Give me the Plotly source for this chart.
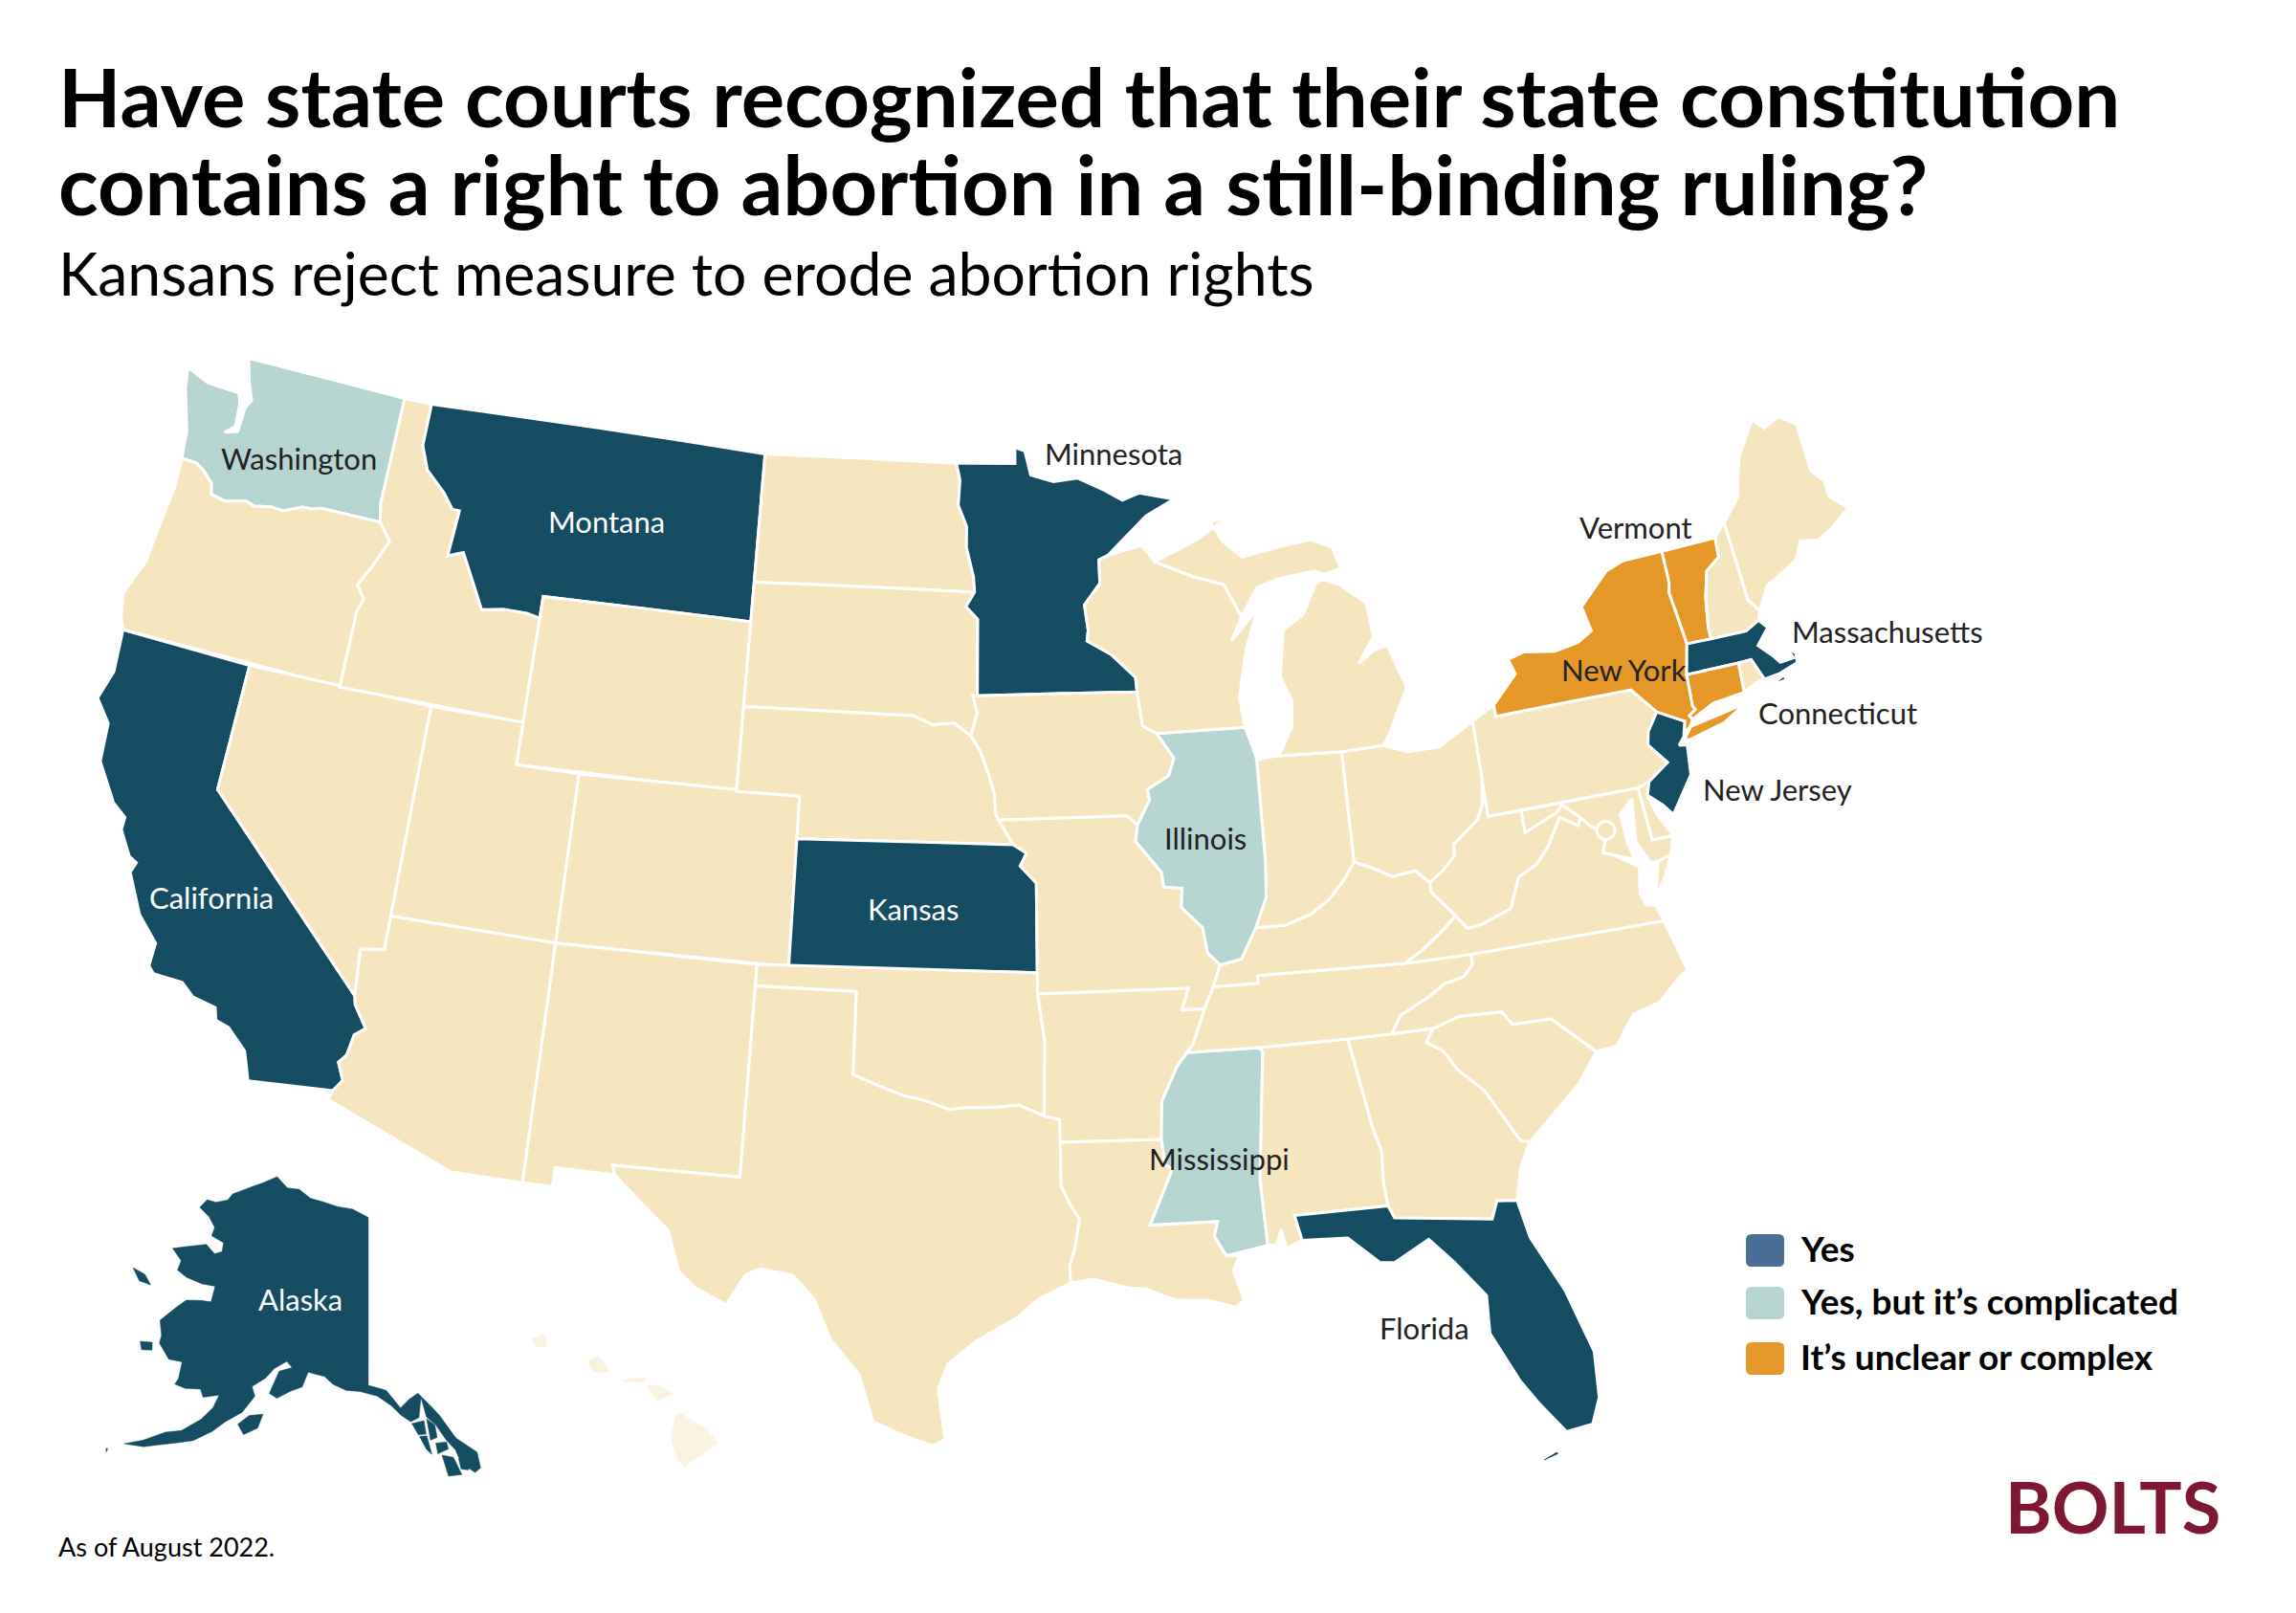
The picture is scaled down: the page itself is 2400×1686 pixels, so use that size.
import plotly.graph_objects as go

# state outlines as lon/lat, the cdn topojson can't be fetched here so they live in the file
WA = [(-124.73, 48.38), (-123.9, 48.16), (-123.1, 48.15), (-122.75, 48.14), (-122.62, 47.9), (-122.55, 47.35),
      (-122.85, 47.15), (-122.42, 47.25), (-122.4, 47.85), (-122.25, 48.05), (-122.5, 48.45), (-122.76, 49.0),
      (-117.03, 49.0), (-117.04, 46.42), (-116.92, 46.0), (-118.98, 46.0), (-119.3, 45.93), (-119.6, 45.92),
      (-120.2, 45.72), (-120.65, 45.74), (-121.2, 45.65), (-121.5, 45.72), (-122.2, 45.58), (-122.7, 45.65),
      (-122.8, 45.9), (-123.2, 46.15), (-123.5, 46.26), (-124.0, 46.27), (-124.08, 46.7), (-124.1, 46.9),
      (-124.3, 47.3), (-124.6, 47.9)]
OR = [(-124.0, 46.27), (-123.5, 46.26), (-123.2, 46.15), (-122.8, 45.9), (-122.7, 45.65), (-122.2, 45.58),
      (-121.5, 45.72), (-121.2, 45.65), (-120.65, 45.74), (-120.2, 45.72), (-119.6, 45.92), (-119.3, 45.93),
      (-118.98, 46.0), (-116.92, 46.0), (-116.46, 45.61), (-116.85, 44.95), (-117.2, 44.44), (-116.9, 44.15),
      (-117.03, 43.83), (-117.03, 42.0), (-124.21, 42.0), (-124.4, 42.3), (-124.55, 42.84), (-124.15, 43.7),
      (-124.06, 44.7), (-123.95, 45.6)]
CA = [(-124.21, 42.0), (-120.0, 42.0), (-120.0, 39.0), (-114.63, 35.0), (-114.57, 34.8), (-114.14, 34.3),
      (-114.43, 34.1), (-114.53, 33.6), (-114.72, 33.4), (-114.5, 33.0), (-114.72, 32.72), (-117.12, 32.53),
      (-117.25, 32.85), (-117.4, 33.2), (-118.0, 33.65), (-118.4, 33.75), (-118.5, 34.03), (-119.2, 34.15),
      (-119.6, 34.42), (-120.47, 34.45), (-120.65, 34.6), (-120.63, 35.15), (-121.3, 35.7), (-121.9, 36.6),
      (-121.8, 36.85), (-122.05, 36.95), (-122.5, 37.5), (-122.5, 37.8), (-122.95, 38.05), (-123.7, 38.9),
      (-123.8, 39.8), (-124.35, 40.3), (-124.1, 41.0)]
NV = [(-120.0, 42.0), (-114.04, 42.0), (-114.04, 37.0), (-114.04, 36.2), (-114.74, 36.1), (-114.63, 35.0), (-120.0, 39.0)]
ID = [(-117.03, 49.0), (-116.05, 49.0), (-116.05, 48.0), (-115.72, 47.45), (-115.0, 47.0), (-114.6, 46.65),
      (-114.35, 46.65), (-114.45, 45.55), (-113.95, 45.7), (-113.45, 45.05), (-113.0, 44.45), (-112.3, 44.55),
      (-111.5, 44.55), (-111.05, 44.48), (-111.05, 42.0), (-117.03, 42.0), (-117.03, 43.83), (-116.9, 44.15),
      (-117.2, 44.44), (-116.85, 44.95), (-116.46, 45.61), (-116.92, 46.0), (-117.04, 46.42)]
MT = [(-116.05, 49.0), (-104.05, 49.0), (-104.05, 45.0), (-111.05, 45.0), (-111.05, 44.48), (-111.5, 44.55),
      (-112.3, 44.55), (-113.0, 44.45), (-113.45, 45.05), (-113.95, 45.7), (-114.45, 45.55), (-114.35, 46.65),
      (-114.6, 46.65), (-115.0, 47.0), (-115.72, 47.45), (-116.05, 48.0)]
WY = [(-111.05, 45.0), (-104.05, 45.0), (-104.05, 41.0), (-111.05, 41.0)]
UT = [(-114.04, 42.0), (-111.05, 42.0), (-111.05, 41.0), (-109.05, 41.0), (-109.05, 37.0), (-114.04, 37.0)]
CO = [(-109.05, 41.0), (-102.05, 41.0), (-102.05, 37.0), (-109.05, 37.0)]
AZ = [(-114.04, 37.0), (-109.05, 37.0), (-109.05, 31.33), (-111.07, 31.33), (-114.81, 32.5), (-114.72, 32.72),
      (-114.5, 33.0), (-114.72, 33.4), (-114.53, 33.6), (-114.43, 34.1), (-114.14, 34.3), (-114.57, 34.8),
      (-114.63, 35.0), (-114.74, 36.1), (-114.04, 36.2)]
NM = [(-109.05, 37.0), (-103.0, 37.0), (-103.04, 32.0), (-106.62, 32.0), (-106.53, 31.78), (-108.21, 31.78),
      (-108.21, 31.33), (-109.05, 31.33)]
ND = [(-104.05, 49.0), (-97.23, 49.0), (-97.1, 48.6), (-97.15, 48.0), (-96.85, 47.5), (-96.85, 47.0), (-96.6, 46.3),
      (-96.56, 45.94), (-104.05, 45.94)]
SD = [(-104.05, 45.94), (-96.56, 45.94), (-96.85, 45.6), (-96.45, 45.3), (-96.45, 43.5), (-96.6, 43.5),
      (-96.45, 43.1), (-96.65, 42.55), (-97.2, 42.85), (-97.9, 42.8), (-98.5, 43.0), (-104.05, 43.0)]
NE = [(-104.05, 43.0), (-98.5, 43.0), (-97.9, 42.8), (-97.2, 42.85), (-96.65, 42.55), (-96.35, 42.2), (-96.1, 41.7),
      (-95.9, 41.2), (-95.85, 40.7), (-95.31, 40.0), (-102.05, 40.0), (-102.05, 41.0), (-104.05, 41.0)]
KS = [(-102.05, 40.0), (-95.31, 40.0), (-94.9, 39.8), (-95.1, 39.5), (-94.61, 39.1), (-94.62, 37.0), (-102.05, 37.0)]
OK = [(-103.0, 37.0), (-94.62, 37.0), (-94.62, 36.5), (-94.43, 35.4), (-94.48, 33.64), (-95.2, 33.9), (-96.0, 33.85),
      (-96.6, 33.85), (-97.2, 33.8), (-97.9, 34.0), (-98.5, 34.1), (-99.2, 34.3), (-100.0, 34.56), (-100.0, 36.5),
      (-103.0, 36.5)]
TX = [(-106.62, 32.0), (-103.04, 32.0), (-103.0, 36.5), (-100.0, 36.5), (-100.0, 34.56), (-99.2, 34.3), (-98.5, 34.1),
      (-97.9, 34.0), (-97.2, 33.8), (-96.6, 33.85), (-96.0, 33.85), (-95.2, 33.9), (-94.48, 33.64), (-94.04, 33.55),
      (-94.04, 33.02), (-94.04, 32.0), (-93.8, 31.55), (-93.55, 31.2), (-93.7, 30.5), (-93.85, 30.1), (-93.83, 29.7),
      (-94.7, 29.35), (-95.3, 28.9), (-96.4, 28.35), (-97.15, 27.8), (-97.4, 27.2), (-97.2, 26.0), (-97.5, 25.85),
      (-98.2, 26.05), (-99.1, 26.4), (-99.5, 27.5), (-100.3, 28.3), (-100.8, 29.25), (-101.4, 29.77), (-102.3, 29.88),
      (-102.7, 29.7), (-103.15, 28.98), (-104.0, 29.3), (-104.5, 29.65), (-104.9, 30.6), (-106.0, 31.4), (-106.53, 31.78)]
MN = [(-97.23, 49.0), (-95.15, 49.0), (-95.15, 49.38), (-94.8, 49.3), (-94.6, 48.72), (-93.8, 48.55), (-92.95, 48.62),
      (-92.0, 48.3), (-91.4, 48.05), (-90.8, 48.2), (-89.6, 48.0), (-90.6, 47.65), (-92.0, 46.75), (-92.3, 46.66),
      (-92.3, 46.1), (-92.85, 45.6), (-92.75, 45.0), (-92.8, 44.75), (-92.0, 44.4), (-91.25, 43.85), (-91.22, 43.5),
      (-96.45, 43.5), (-96.45, 45.3), (-96.85, 45.6), (-96.56, 45.94), (-96.6, 46.3), (-96.85, 47.0), (-96.85, 47.5),
      (-97.15, 48.0), (-97.1, 48.6)]
IA = [(-96.45, 43.5), (-91.22, 43.5), (-91.1, 42.7), (-90.65, 42.5), (-90.15, 41.9), (-90.35, 41.5), (-91.05, 41.2),
      (-91.0, 40.95), (-91.42, 40.38), (-91.73, 40.61), (-95.77, 40.58), (-95.85, 40.7), (-95.9, 41.2), (-96.1, 41.7),
      (-96.35, 42.2), (-96.65, 42.55), (-96.45, 43.1), (-96.6, 43.5)]
MO = [(-95.77, 40.58), (-91.73, 40.61), (-91.42, 40.38), (-91.5, 40.0), (-90.75, 39.25), (-90.7, 38.9), (-90.15, 38.85),
      (-90.2, 38.4), (-89.6, 37.9), (-89.5, 37.3), (-89.15, 37.0), (-89.4, 36.5), (-89.7, 36.0), (-90.37, 36.0),
      (-90.15, 36.5), (-94.62, 36.5), (-94.62, 37.0), (-94.61, 39.1), (-95.1, 39.5), (-94.9, 39.8), (-95.31, 40.0)]
AR = [(-94.62, 36.5), (-90.15, 36.5), (-90.37, 36.0), (-89.7, 36.0), (-90.1, 35.2), (-90.3, 35.0), (-90.6, 34.7),
      (-91.1, 33.9), (-91.17, 33.0), (-94.04, 33.02), (-94.04, 33.55), (-94.48, 33.64), (-94.43, 35.4)]
LA = [(-94.04, 33.02), (-91.17, 33.0), (-91.1, 32.4), (-90.9, 32.3), (-91.6, 31.0), (-89.73, 31.0), (-89.85, 30.65),
      (-89.55, 30.18), (-89.2, 30.15), (-89.4, 29.8), (-89.15, 29.1), (-89.4, 28.95), (-90.1, 29.15), (-91.0, 29.2),
      (-91.8, 29.5), (-92.3, 29.55), (-93.2, 29.78), (-93.83, 29.7), (-93.85, 30.1), (-93.7, 30.5), (-93.55, 31.2),
      (-93.8, 31.55), (-94.04, 32.0)]
MS = [(-90.3, 35.0), (-88.2, 35.0), (-88.1, 34.9), (-88.47, 31.9), (-88.4, 30.35), (-89.55, 30.18), (-89.85, 30.65),
      (-89.73, 31.0), (-91.6, 31.0), (-90.9, 32.3), (-91.1, 32.4), (-91.17, 33.0), (-91.1, 33.9), (-90.6, 34.7)]
AL = [(-88.2, 35.0), (-85.6, 35.0), (-85.18, 32.87), (-85.0, 32.3), (-85.05, 31.55), (-85.0, 31.0), (-87.6, 31.0),
      (-87.45, 30.4), (-87.9, 30.25), (-88.0, 30.7), (-88.15, 30.35), (-88.4, 30.35), (-88.47, 31.9), (-88.1, 34.9)]
GA = [(-85.6, 35.0), (-83.1, 35.0), (-83.35, 34.7), (-82.9, 34.45), (-82.55, 33.95), (-81.9, 33.4), (-81.4, 32.6),
      (-81.1, 32.1), (-80.85, 32.03), (-81.2, 31.5), (-81.45, 30.72), (-82.0, 30.78), (-82.2, 30.37), (-84.86, 30.7),
      (-85.0, 31.0), (-85.05, 31.55), (-85.0, 32.3), (-85.18, 32.87)]
FL = [(-87.6, 31.0), (-85.0, 31.0), (-84.86, 30.7), (-82.2, 30.37), (-82.0, 30.78), (-81.45, 30.72), (-81.25, 29.8),
      (-80.55, 28.45), (-80.05, 26.9), (-80.12, 25.8), (-80.4, 25.2), (-81.1, 25.12), (-81.7, 25.9), (-82.1, 26.5),
      (-82.7, 27.7), (-82.65, 28.6), (-83.4, 29.5), (-84.0, 30.1), (-85.0, 29.65), (-85.4, 29.7), (-86.2, 30.35),
      (-87.45, 30.4)]
FL_KEYS = [(-81.85, 24.55), (-81.4, 24.72), (-81.35, 24.6), (-81.8, 24.48)]
SC = [(-83.1, 35.0), (-82.3, 35.2), (-81.05, 35.15), (-80.8, 34.82), (-79.67, 34.8), (-78.55, 33.86), (-79.2, 33.2),
      (-79.9, 32.7), (-80.85, 32.03), (-81.1, 32.1), (-81.4, 32.6), (-81.9, 33.4), (-82.55, 33.95), (-82.9, 34.45),
      (-83.35, 34.7)]
NC = [(-84.32, 35.0), (-83.1, 35.0), (-82.3, 35.2), (-81.05, 35.15), (-80.8, 34.82), (-79.67, 34.8), (-78.55, 33.86),
      (-77.95, 33.9), (-77.3, 34.55), (-76.5, 34.7), (-75.75, 35.2), (-75.5, 35.3), (-75.87, 36.55), (-81.68, 36.59),
      (-81.7, 36.35), (-82.0, 36.1), (-82.6, 36.0), (-83.1, 35.75), (-84.0, 35.4)]
TN = [(-90.3, 35.0), (-88.2, 35.0), (-85.6, 35.0), (-84.32, 35.0), (-84.0, 35.4), (-83.1, 35.75), (-82.6, 36.0),
      (-82.0, 36.1), (-81.7, 36.35), (-81.68, 36.59), (-83.68, 36.6), (-88.07, 36.68), (-88.07, 36.5), (-89.4, 36.5),
      (-89.7, 36.0), (-90.1, 35.2)]
KY = [(-89.4, 36.5), (-88.07, 36.5), (-88.07, 36.68), (-83.68, 36.6), (-83.1, 36.85), (-82.4, 37.25), (-81.97, 37.54),
      (-82.6, 38.17), (-82.6, 38.4), (-83.0, 38.72), (-83.7, 38.65), (-84.25, 38.9), (-84.82, 39.1), (-85.2, 38.7),
      (-85.7, 38.3), (-86.3, 38.0), (-87.1, 37.8), (-88.0, 37.8), (-88.5, 37.1), (-89.15, 37.0)]
WV = [(-81.97, 37.54), (-81.68, 37.2), (-81.2, 37.25), (-80.3, 37.5), (-79.9, 38.2), (-79.3, 38.42), (-78.87, 38.77),
      (-78.35, 39.4), (-77.83, 39.13), (-77.72, 39.32), (-78.2, 39.68), (-78.45, 39.52), (-79.48, 39.2), (-79.48, 39.72),
      (-80.52, 39.72), (-80.52, 40.64), (-80.65, 40.0), (-80.87, 39.68), (-81.7, 39.2), (-81.75, 38.93), (-82.2, 38.6),
      (-82.6, 38.4), (-82.6, 38.17)]
VA = [(-83.68, 36.6), (-81.68, 36.59), (-75.87, 36.55), (-76.0, 36.93), (-76.3, 37.0), (-76.4, 37.3), (-76.25, 37.9),
      (-76.95, 38.3), (-77.25, 38.4), (-77.04, 38.79), (-77.5, 39.1), (-77.72, 39.32), (-77.83, 39.13), (-78.35, 39.4),
      (-78.87, 38.77), (-79.3, 38.42), (-79.9, 38.2), (-80.3, 37.5), (-81.2, 37.25), (-81.68, 37.2), (-81.97, 37.54),
      (-82.4, 37.25), (-83.1, 36.85)]
VA_SHORE = [(-75.95, 37.15), (-75.65, 37.95), (-75.24, 38.03), (-75.6, 37.5)]
MD = [(-79.48, 39.72), (-75.79, 39.72), (-75.7, 38.46), (-75.05, 38.45), (-75.24, 38.03), (-75.65, 37.95), (-75.9, 37.95),
      (-76.2, 38.5), (-76.05, 39.5), (-76.5, 39.2), (-76.45, 38.5), (-76.35, 38.1), (-76.95, 38.3), (-77.25, 38.4),
      (-77.04, 38.79), (-77.5, 39.1), (-77.72, 39.32), (-78.2, 39.68), (-78.45, 39.52), (-79.48, 39.2)]
DE = [(-75.79, 39.72), (-75.55, 39.83), (-75.42, 39.8), (-75.55, 39.45), (-75.4, 39.05), (-75.05, 38.45), (-75.7, 38.46)]
PA = [(-80.52, 41.98), (-79.76, 42.27), (-79.76, 42.0), (-75.35, 42.0), (-74.7, 41.36), (-75.1, 40.95), (-75.2, 40.65),
      (-74.72, 40.15), (-75.42, 39.8), (-75.79, 39.72), (-80.52, 39.72)]
NJ = [(-74.7, 41.36), (-73.9, 41.0), (-74.05, 40.65), (-74.25, 40.48), (-74.0, 40.45), (-74.1, 39.75), (-74.9, 38.93),
      (-75.15, 39.2), (-75.55, 39.5), (-75.42, 39.8), (-74.72, 40.15), (-75.2, 40.65), (-75.1, 40.95)]
NY = [(-79.76, 42.27), (-79.76, 42.0), (-75.35, 42.0), (-74.7, 41.36), (-73.9, 41.0), (-74.0, 40.72), (-73.78, 40.85),
      (-73.65, 41.0), (-73.72, 41.1), (-73.49, 41.21), (-73.55, 41.3), (-73.5, 42.05), (-73.26, 42.75), (-73.28, 42.94),
      (-73.43, 44.03), (-73.35, 44.25), (-73.34, 45.01), (-74.7, 45.0), (-75.3, 44.85), (-76.35, 44.15), (-76.2, 43.55),
      (-76.7, 43.35), (-77.5, 43.25), (-78.5, 43.37), (-79.05, 43.27), (-78.9, 42.9)]
NY_LONG_ISLAND = [(-74.03, 40.6), (-73.75, 40.85), (-72.6, 40.98), (-71.9, 41.07), (-72.7, 40.75), (-73.9, 40.55)]
VT = [(-73.34, 45.01), (-71.5, 45.01), (-71.55, 44.55), (-72.05, 44.3), (-72.3, 43.7), (-72.46, 43.0), (-72.46, 42.73),
      (-73.26, 42.75), (-73.28, 42.94), (-73.43, 44.03), (-73.35, 44.25)]
NH = [(-71.5, 45.01), (-71.08, 45.3), (-70.98, 43.4), (-70.7, 43.07), (-70.82, 42.87), (-71.3, 42.7), (-72.46, 42.73),
      (-72.46, 43.0), (-72.3, 43.7), (-72.05, 44.3), (-71.55, 44.55)]
ME = [(-71.08, 45.3), (-70.4, 45.8), (-70.25, 46.2), (-70.0, 46.7), (-69.23, 47.46), (-68.9, 47.2), (-68.3, 47.36),
      (-67.79, 47.07), (-67.78, 45.9), (-67.45, 45.6), (-67.45, 45.2), (-66.95, 44.82), (-67.6, 44.5), (-68.2, 44.3),
      (-68.8, 44.4), (-69.1, 44.0), (-69.8, 43.75), (-70.25, 43.6), (-70.7, 43.07), (-70.98, 43.4)]
MA = [(-73.5, 42.05), (-73.26, 42.75), (-72.46, 42.73), (-71.3, 42.7), (-70.82, 42.87), (-70.6, 42.65), (-71.05, 42.3),
      (-70.65, 41.95), (-70.5, 41.78), (-70.05, 41.8), (-70.2, 42.08), (-69.95, 41.9), (-69.98, 41.67), (-70.65, 41.53),
      (-71.13, 41.5), (-71.38, 42.02), (-71.8, 42.02)]
MA_VINEYARD = [(-70.8, 41.38), (-70.5, 41.47), (-70.45, 41.35), (-70.75, 41.33)]
MA_NANTUCKET = [(-70.2, 41.3), (-69.98, 41.3), (-70.0, 41.24), (-70.2, 41.25)]
RI = [(-71.8, 42.02), (-71.38, 42.02), (-71.13, 41.5), (-71.4, 41.47), (-71.86, 41.32)]
CT = [(-73.5, 42.05), (-71.8, 42.02), (-71.86, 41.32), (-72.9, 41.25), (-73.65, 41.0), (-73.72, 41.1), (-73.49, 41.21),
      (-73.55, 41.3)]
OH = [(-84.8, 41.7), (-83.45, 41.72), (-82.7, 41.5), (-81.7, 41.5), (-80.52, 41.98), (-80.52, 40.64), (-80.65, 40.0),
      (-80.87, 39.68), (-81.7, 39.2), (-81.75, 38.93), (-82.2, 38.6), (-82.6, 38.4), (-83.0, 38.72), (-83.7, 38.65),
      (-84.25, 38.9), (-84.82, 39.1)]
IN = [(-87.52, 41.7), (-87.2, 41.75), (-86.8, 41.76), (-84.8, 41.7), (-84.82, 39.1), (-85.2, 38.7), (-85.7, 38.3),
      (-86.3, 38.0), (-87.1, 37.8), (-88.0, 37.8), (-87.6, 38.5), (-87.53, 39.35)]
IL = [(-90.65, 42.5), (-87.8, 42.5), (-87.55, 41.85), (-87.52, 41.7), (-87.53, 39.35), (-87.6, 38.5), (-88.0, 37.8),
      (-88.5, 37.1), (-89.15, 37.0), (-89.5, 37.3), (-89.6, 37.9), (-90.2, 38.4), (-90.15, 38.85), (-90.7, 38.9),
      (-90.75, 39.25), (-91.5, 40.0), (-91.42, 40.38), (-91.0, 40.95), (-91.05, 41.2), (-90.35, 41.5), (-90.15, 41.9)]
WI = [(-92.0, 46.75), (-90.8, 46.95), (-90.4, 46.55), (-89.1, 46.13), (-88.1, 45.9), (-87.6, 45.1), (-88.0, 44.55),
      (-87.05, 45.25), (-87.55, 44.3), (-87.9, 43.2), (-87.8, 42.5), (-90.65, 42.5), (-91.1, 42.7), (-91.22, 43.5),
      (-91.25, 43.85), (-92.0, 44.4), (-92.8, 44.75), (-92.75, 45.0), (-92.85, 45.6), (-92.3, 46.1), (-92.3, 46.66)]
MI_LOWER = [(-84.8, 41.7), (-86.8, 41.76), (-86.3, 42.4), (-86.2, 43.0), (-86.5, 43.6), (-86.25, 44.7), (-85.55, 45.0),
            (-85.0, 45.7), (-84.75, 45.78), (-84.2, 45.6), (-83.4, 45.1), (-83.3, 44.3), (-83.9, 43.7), (-83.4, 43.95),
            (-82.9, 44.05), (-82.45, 43.0), (-82.9, 42.4), (-83.15, 42.05), (-83.45, 41.72)]
MI_UPPER = [(-90.4, 46.55), (-89.1, 46.13), (-88.1, 45.9), (-87.6, 45.1), (-87.0, 45.75), (-86.3, 45.9), (-85.0, 46.0),
            (-84.7, 45.9), (-84.1, 45.98), (-84.3, 46.5), (-85.0, 46.75), (-86.0, 46.67), (-87.4, 46.5), (-88.0, 46.9),
            (-88.4, 47.4), (-87.8, 47.47), (-88.9, 47.0)]
AK = [(-141.0, 69.65), (-143.5, 70.1), (-146.0, 70.2), (-148.5, 70.4), (-150.5, 70.5), (-152.5, 70.9), (-154.5, 70.85),
      (-156.6, 71.35), (-158.5, 70.85), (-160.5, 70.35), (-162.8, 69.7), (-163.2, 69.3), (-164.8, 68.95), (-166.2, 68.9),
      (-166.8, 68.35), (-165.0, 68.05), (-163.7, 67.6), (-163.7, 67.1), (-161.8, 66.95), (-161.6, 66.45), (-162.5, 66.2),
      (-164.0, 66.55), (-166.2, 66.1), (-168.1, 65.65), (-166.4, 65.2), (-166.4, 64.65), (-165.0, 64.45), (-162.8, 64.4),
      (-161.1, 64.5), (-161.0, 63.6), (-162.3, 63.5), (-164.0, 63.25), (-164.9, 62.65), (-166.1, 61.7), (-165.3, 60.95),
      (-165.2, 60.5), (-163.6, 59.85), (-162.1, 59.95), (-161.9, 59.0), (-162.1, 58.65), (-160.9, 58.6), (-159.3, 58.8),
      (-158.8, 58.4), (-157.2, 58.75), (-157.5, 58.0), (-158.4, 57.2), (-160.0, 56.3), (-161.5, 55.95), (-163.3, 55.15),
      (-164.9, 54.6), (-163.1, 54.8), (-161.6, 55.2), (-160.0, 55.6), (-158.6, 55.95), (-157.0, 56.7), (-155.9, 57.4),
      (-154.4, 58.1), (-153.4, 59.1), (-153.9, 59.6), (-152.6, 60.2), (-151.8, 60.8), (-150.5, 61.3), (-149.8, 61.0),
      (-151.2, 60.7), (-151.9, 59.4), (-151.0, 59.2), (-149.6, 59.7), (-148.4, 60.0), (-147.9, 60.85), (-146.0, 60.7),
      (-145.0, 60.3), (-143.5, 60.0), (-141.9, 59.95), (-140.0, 59.7), (-138.5, 59.15), (-137.5, 58.6), (-136.5, 58.2),
      (-135.6, 58.4), (-135.2, 59.5), (-134.8, 58.4), (-133.9, 57.9), (-133.0, 57.0), (-132.2, 56.4), (-131.8, 55.6),
      (-130.6, 55.0), (-130.0, 55.2), (-130.1, 56.1), (-132.0, 57.05), (-133.4, 58.4), (-134.1, 58.9), (-135.5, 59.75),
      (-136.5, 59.45), (-137.5, 59.0), (-139.0, 60.0), (-141.0, 60.3)]
AK_KODIAK = [(-154.6, 57.4), (-153.6, 58.0), (-152.2, 58.2), (-152.5, 57.4), (-153.8, 56.9)]
AK_NUNIVAK = [(-167.3, 60.2), (-166.0, 60.4), (-165.7, 60.0), (-166.8, 59.8)]
AK_ST_LAWRENCE = [(-171.7, 63.75), (-170.0, 63.7), (-168.8, 63.3), (-170.3, 63.25)]
AK_CHICHAGOF = [(-136.4, 58.1), (-135.1, 58.2), (-135.0, 57.45), (-135.8, 57.45)]
AK_BARANOF = [(-135.7, 57.35), (-134.95, 57.35), (-134.6, 56.3), (-135.1, 56.6)]
AK_ADMIRALTY = [(-134.8, 58.3), (-134.0, 57.9), (-133.9, 57.2), (-134.6, 57.1)]
AK_KUPREANOF = [(-134.1, 56.9), (-133.0, 56.9), (-132.9, 56.5), (-134.0, 56.3)]
AK_PRINCE_OF_WALES = [(-133.6, 56.2), (-132.5, 56.0), (-131.9, 55.0), (-133.2, 55.0)]
AK_REVILLAGIGEDO = [(-132.0, 55.9), (-130.9, 55.9), (-131.2, 55.2), (-131.9, 55.3)]
AK_UNALASKA = [(-167.5, 53.95), (-166.2, 54.0), (-166.3, 53.5), (-167.6, 53.3)]
AK_UMNAK = [(-169.0, 53.05), (-168.0, 53.6), (-167.9, 53.3), (-168.9, 52.9)]
AK_ATKA = [(-174.8, 52.3), (-174.0, 52.4), (-173.9, 52.05), (-174.8, 52.05)]
AK_ADAK = [(-177.0, 51.95), (-176.4, 52.0), (-176.4, 51.65), (-176.9, 51.65)]
HI_BIG = [(-155.9, 20.25), (-155.75, 20.25), (-155.1, 19.85), (-154.8, 19.5), (-155.7, 18.95), (-155.9, 19.1), (-156.05, 19.7)]
HI_MAUI = [(-156.7, 20.95), (-156.3, 20.95), (-156.0, 20.75), (-156.4, 20.58)]
HI_MOLOKAI = [(-157.3, 21.1), (-156.75, 21.17), (-156.75, 21.05), (-157.25, 21.05)]
HI_OAHU = [(-158.25, 21.55), (-157.95, 21.7), (-157.65, 21.3), (-158.1, 21.3)]
HI_KAUAI = [(-159.75, 22.1), (-159.4, 22.22), (-159.3, 21.95), (-159.6, 21.9)]

shapes_by_state = {
    "WA": [WA], "OR": [OR], "CA": [CA], "NV": [NV], "ID": [ID], "MT": [MT], "WY": [WY], "UT": [UT], "CO": [CO],
    "AZ": [AZ], "NM": [NM], "ND": [ND], "SD": [SD], "NE": [NE], "KS": [KS], "OK": [OK], "TX": [TX], "MN": [MN],
    "IA": [IA], "MO": [MO], "AR": [AR], "LA": [LA], "MS": [MS], "AL": [AL], "GA": [GA], "FL": [FL, FL_KEYS], "SC": [SC],
    "NC": [NC], "TN": [TN], "KY": [KY], "WV": [WV], "VA": [VA, VA_SHORE], "MD": [MD], "DE": [DE], "PA": [PA],
    "NJ": [NJ], "NY": [NY, NY_LONG_ISLAND], "VT": [VT], "NH": [NH], "ME": [ME], "MA": [MA, MA_VINEYARD, MA_NANTUCKET],
    "RI": [RI], "CT": [CT], "OH": [OH], "IN": [IN], "IL": [IL], "WI": [WI], "MI": [MI_LOWER, MI_UPPER],
    "AK": [AK, AK_KODIAK, AK_NUNIVAK, AK_ST_LAWRENCE, AK_CHICHAGOF, AK_BARANOF, AK_ADMIRALTY, AK_KUPREANOF,
           AK_PRINCE_OF_WALES, AK_REVILLAGIGEDO, AK_UNALASKA, AK_UMNAK, AK_ATKA, AK_ADAK],
    "HI": [HI_BIG, HI_MAUI, HI_MOLOKAI, HI_OAHU, HI_KAUAI],
}

dc_lon = [-77.03]
dc_lat = [38.9]

yes_states = ["MT", "CA", "KS", "MN", "FL", "AK", "MA", "NJ"]
complicated_states = ["WA", "IL", "MS"]
unclear_states = ["NY", "VT", "CT"]

legend_labels = ["Yes", "Yes, but it’s complicated", "It’s unclear or complex"]
legend_colors = ["#4a6e96", "#b7d5d0", "#e59827"]

label_names = ["Washington", "Montana", "Minnesota", "Vermont", "Massachusetts", "New York", "Connecticut",
               "New Jersey", "Illinois", "Kansas", "California", "Mississippi", "Alaska", "Florida"]
label_x = [312, 634, 1164, 1710, 1973, 1697, 1921, 1858, 1260, 955, 221, 1274, 314, 1489]
label_y = [479, 545, 474, 551, 660, 700, 745, 825, 876, 950, 938, 1211, 1358, 1388]
label_colors = ["#222", "white", "#222", "#222", "#222", "#222", "#222", "#222", "#222", "white", "white", "#222",
                "white", "#222"]

W, H = 2400, 1686


def clockwise(ring):
    # d3 fills the whole globe if the ring goes the wrong way round
    area = sum(a[0] * b[1] - b[0] * a[1] for a, b in zip(ring, ring[1:] + ring[:1]))
    ring = ring if area < 0 else ring[::-1]
    return ring + [ring[0]]


def state_color(st):
    if st in yes_states:
        return "#154c61"
    if st in complicated_states:
        return "#b7d5d0"
    if st in unclear_states:
        return "#e59827"
    if st == "HI":
        return "#fbf3e2"
    return "#f5e6bf"


fig = go.Figure()
for st, polys in shapes_by_state.items():
    lons, lats = [], []
    for p in polys:
        ring = clockwise(p)
        lons += [c[0] for c in ring] + [None]
        lats += [c[1] for c in ring] + [None]
    # alaska and hawaii get their own little maps, like the insets on the reference
    subplot = {"AK": "geo2", "HI": "geo3"}.get(st, "geo")
    border = "white" if subplot == "geo" else state_color(st)
    fig.add_trace(go.Scattergeo(lon=lons, lat=lats, mode="lines", fill="toself", fillcolor=state_color(st), geo=subplot,
                                line=dict(color=border, width=3 if subplot == "geo" else 0.5), name=st,
                                hoverinfo="name", showlegend=False))

fig.add_trace(go.Scattergeo(lon=dc_lon, lat=dc_lat, mode="markers", name="DC", hoverinfo="name", showlegend=False,
                            marker=dict(size=19, color="#f5e6bf", line=dict(color="white", width=3))))

no_layers = dict(fitbounds=False, bgcolor="rgba(0,0,0,0)", showland=False, showlakes=False, showcountries=False,
                 showcoastlines=False, showsubunits=False, showframe=False, showocean=False, showrivers=False)

fig.update_layout(width=W, height=H, margin=dict(l=0, r=0, t=0, b=0), paper_bgcolor="white",
                  # same conic as the lower 48 in albers usa, but this one isn't clipped when it's placed
                  geo=dict(projection=dict(type="albers", rotation_lon=-96, parallels=[29.5, 45.5]),
                           lonaxis_range=[-119.5, -72.5], lataxis_range=[23.5, 55],
                           domain=dict(x=[0.03167, 0.83167], y=[0.01447, 0.8982]), **no_layers),
                  geo2=dict(projection=dict(type="conic equal area", rotation_lon=-141, parallels=[55, 65]),
                            lonaxis_range=[-178, -130], lataxis_range=[51, 72],
                            domain=dict(x=[0.0324, 0.2884], y=[0.0201, 0.2891]), **no_layers),
                  geo3=dict(projection=dict(type="conic equal area", rotation_lon=-157, parallels=[8, 18]),
                            lonaxis_range=[-160, -154.6], lataxis_range=[18.8, 22.4],
                            domain=dict(x=[0.2314, 0.3214], y=[0.087, 0.177]), **no_layers))


def add_text(text, x, y, size, color="black", anchor="left"):
    fig.add_annotation(text=text, x=x / W, y=1 - y / H, xref="paper", yref="paper", showarrow=False, borderpad=0,
                       xanchor=anchor, yanchor="middle", align=anchor, font=dict(family="Lato", size=size, color=color))


def rounded_box(x0, y0, x1, y1, r=6):
    # corners in pixels, path in paper fractions
    fx = lambda v: v / W
    fy = lambda v: 1 - v / H
    return (f"M {fx(x0 + r)} {fy(y0)} L {fx(x1 - r)} {fy(y0)} Q {fx(x1)} {fy(y0)} {fx(x1)} {fy(y0 + r)} "
            f"L {fx(x1)} {fy(y1 - r)} Q {fx(x1)} {fy(y1)} {fx(x1 - r)} {fy(y1)} "
            f"L {fx(x0 + r)} {fy(y1)} Q {fx(x0)} {fy(y1)} {fx(x0)} {fy(y1 - r)} "
            f"L {fx(x0)} {fy(y0 + r)} Q {fx(x0)} {fy(y0)} {fx(x0 + r)} {fy(y0)} Z")


add_text("<b>Have state courts recognized that their state constitution</b>", 60, 100, 85)
add_text("<b>contains a right to abortion in a still-binding ruling?</b>", 60, 191, 86.5)
add_text("Kansans reject measure to erode abortion rights", 60, 284, 62.5)
add_text("As of August 2022.", 60, 1616, 27)

for name, x, y, c in zip(label_names, label_x, label_y, label_colors):
    add_text(name, x, y, 31, color=c, anchor="center")

for i, (lab, col) in enumerate(zip(legend_labels, legend_colors)):
    y = [1307, 1362, 1420][i]
    fig.add_shape(type="path", path=rounded_box(1825, y - 17, 1865, y + 17), xref="paper", yref="paper",
                  fillcolor=col, line=dict(width=0))
    add_text("<b>" + lab + "</b>", 1881, y - 3, 37)

add_text("<b>BOLTS</b>", 2095, 1574, 74, color="#7f1734")

fig.write_html("out.html", config=dict(displayModeBar=False), post_script="document.body.style.margin='0';")
